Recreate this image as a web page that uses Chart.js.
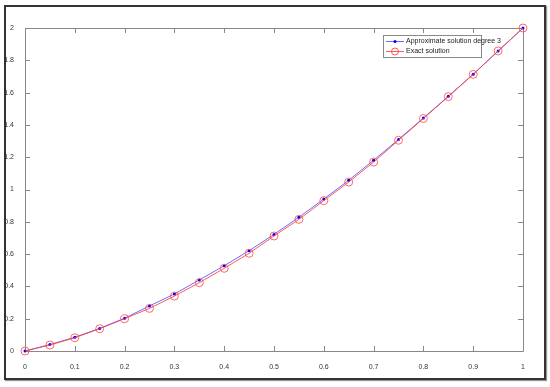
<!DOCTYPE html>
<html>
<head>
<meta charset="utf-8">
<script src="https://cdn.jsdelivr.net/npm/chart.js@4/dist/chart.umd.min.js"></script>
<style>
  body { margin: 0; background: #fff; }
  #wrap { position: relative; width: 550px; height: 387px; }
  #frame {
    position: absolute; left: 4px; top: 5px; width: 538px; height: 371px;
    border: 2px solid #333; box-shadow: 1px 1px 1px #999;
  }
  canvas { position: absolute; left: 0; top: 0; }
</style>
</head>
<body>
<div id="wrap">
  <div id="frame"></div>
  <canvas id="myChart" width="550" height="387"></canvas>
</div>
<script>
// x positions
const xValues = [0, 0.05, 0.1, 0.15, 0.2, 0.25, 0.3, 0.35, 0.4, 0.45, 0.5,
                 0.55, 0.6, 0.65, 0.7, 0.75, 0.8, 0.85, 0.9, 0.95, 1];

// approximate solution (blue)
const approxValues = [0, 0.04, 0.085, 0.14, 0.203, 0.279, 0.353, 0.44, 0.528, 0.621, 0.722,
                      0.828, 0.941, 1.057, 1.181, 1.31, 1.443, 1.577, 1.714, 1.857, 2.0];

// exact solution (red)
const exactValues = [0, 0.037, 0.082, 0.138, 0.2, 0.264, 0.34, 0.423, 0.512, 0.605, 0.712,
                     0.815, 0.931, 1.046, 1.17, 1.305, 1.44, 1.575, 1.713, 1.858, 2.0];

// tick labels
const xTicks = [0, 0.1, 0.2, 0.3, 0.4, 0.5, 0.6, 0.7, 0.8, 0.9, 1];
const yTicks = [0, 0.2, 0.4, 0.6, 0.8, 1, 1.2, 1.4, 1.6, 1.8, 2];

const legendNames = ['Approximate solution degree 3', 'Exact solution'];

function toPoints(ys) {
    return xValues.map((x, i) => ({ x: x, y: ys[i] }));
}

// inward ticks on all four sides + box, and the legend
const matlabBox = {
    id: 'matlabBox',
    beforeDatasetsDraw(chart) {
        const ctx = chart.ctx;
        const a = chart.chartArea;
        const sx = chart.scales.x, sy = chart.scales.y;
        ctx.save();
        ctx.strokeStyle = '#888';
        ctx.lineWidth = 1;
        ctx.beginPath();
        ctx.rect(Math.round(a.left) + 0.5, Math.round(a.top) + 0.5,
                 Math.round(a.right - a.left), Math.round(a.bottom - a.top));
        xTicks.forEach(v => {
            const px = Math.round(sx.getPixelForValue(v)) + 0.5;
            ctx.moveTo(px, a.bottom); ctx.lineTo(px, a.bottom - 5);
            ctx.moveTo(px, a.top); ctx.lineTo(px, a.top + 5);
        });
        yTicks.forEach(v => {
            const py = Math.round(sy.getPixelForValue(v)) + 0.5;
            ctx.moveTo(a.left, py); ctx.lineTo(a.left + 5, py);
            ctx.moveTo(a.right, py); ctx.lineTo(a.right - 5, py);
        });
        ctx.stroke();
        ctx.restore();
    },
    afterDraw(chart) {
        const ctx = chart.ctx;
        ctx.save();
        ctx.lineWidth = 1;
        // legend box
        const lx = 383.5, ly = 35.5, lw = 98, lh = 22;
        ctx.fillStyle = '#fff';
        ctx.fillRect(lx, ly, lw, lh);
        ctx.strokeStyle = '#888';
        ctx.strokeRect(lx, ly, lw, lh);
        ctx.font = '7px "Liberation Sans", Arial, sans-serif';
        ctx.textBaseline = 'middle';
        // entry 1: blue line with dot
        ctx.strokeStyle = 'rgba(70,70,255,0.8)';
        ctx.beginPath(); ctx.moveTo(386, 41.5); ctx.lineTo(404, 41.5); ctx.stroke();
        ctx.fillStyle = '#0000ff';
        ctx.beginPath(); ctx.arc(395, 41.5, 1.5, 0, Math.PI * 2); ctx.fill();
        ctx.fillStyle = '#222';
        ctx.fillText(legendNames[0], 406, 41.5);
        // entry 2: red line with circle
        ctx.strokeStyle = 'rgba(255,60,60,0.85)';
        ctx.beginPath(); ctx.moveTo(386, 51.5); ctx.lineTo(404, 51.5); ctx.stroke();
        ctx.beginPath(); ctx.arc(395, 51.5, 3.5, 0, Math.PI * 2); ctx.stroke();
        ctx.fillText(legendNames[1], 406, 51.5);
        ctx.restore();
    }
};

const ctx = document.getElementById('myChart').getContext('2d');
const myChart = new Chart(ctx, {
    type: 'scatter',
    data: {
        datasets: [{
            label: legendNames[1],
            data: toPoints(exactValues),
            showLine: true,
            clip: false,
            borderColor: 'rgba(255,60,60,0.85)',
            borderWidth: 1,
            pointStyle: 'circle',
            pointRadius: 4,
            pointBorderWidth: 1,
            pointBorderColor: 'rgba(255,80,80,0.85)',
            pointBackgroundColor: 'rgba(0,0,0,0)',
            order: 0
        }, {
            label: legendNames[0],
            data: toPoints(approxValues),
            showLine: true,
            clip: false,
            borderColor: 'rgba(70,70,255,0.8)',
            borderWidth: 1,
            pointRadius: 1.5,
            pointBorderWidth: 0,
            pointBackgroundColor: '#0000ff',
            order: 1
        }]
    },
    options: {
        responsive: false,
        animation: false,
        layout: { padding: { left: 0, top: 28, right: 27, bottom: 0 } },
        plugins: { legend: { display: false }, tooltip: { enabled: false } },
        scales: {
            x: {
                type: 'linear', min: 0, max: 1,
                afterBuildTicks: s => { s.ticks = xTicks.map(v => ({ value: v })); },
                afterFit: s => { s.height = 36; },
                grid: { display: false },
                border: { display: false },
                ticks: { color: '#333', font: { size: 7, family: 'Liberation Sans' }, padding: 4,
                         maxRotation: 0, callback: v => String(v) }
            },
            y: {
                type: 'linear', min: 0, max: 2,
                afterBuildTicks: s => { s.ticks = yTicks.map(v => ({ value: v })); },
                afterFit: s => { s.width = 25; },
                grid: { display: false },
                border: { display: false },
                ticks: { color: '#333', font: { size: 7, family: 'Liberation Sans' }, padding: 3,
                         callback: v => String(v) }
            }
        }
    },
    plugins: [matlabBox]
});
</script>
</body>
</html>
